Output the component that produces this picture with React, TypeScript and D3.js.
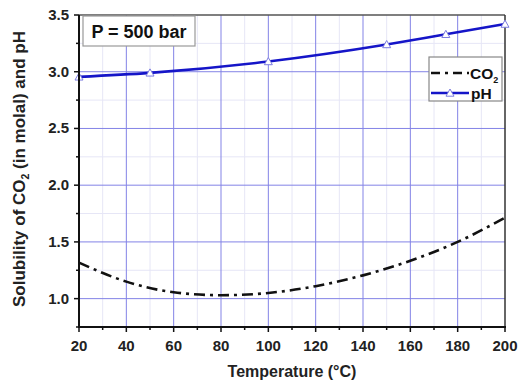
import React from "react";
import * as d3 from "d3";

const temps = [20, 40, 60, 80, 100, 120, 140, 160, 180, 200];
const co2Values = [1.317, 1.15, 1.056, 1.03, 1.05, 1.11, 1.205, 1.334, 1.5, 1.713];
const phTemps = [20, 50, 100, 150, 175, 200];
const phValues = [2.955, 2.99, 3.09, 3.24, 3.33, 3.42];
const xTicks = [20, 40, 60, 80, 100, 120, 140, 160, 180, 200];
const yTicks = [1.0, 1.5, 2.0, 2.5, 3.0, 3.5];
const annotation = "P = 500 bar";

const W = 518, H = 381;
const L = 79, R = 505, T = 15, B = 327;
const FONT = "'Liberation Sans', Arial, sans-serif";

export default function App() {
  const x = d3.scaleLinear().domain([20, 200]).range([L, R]);
  const y = d3.scaleLinear().domain([0.75, 3.5]).range([B, T]);
  const xMinor = d3.range(30, 200, 20);
  const yMinor = d3.range(0.75, 3.5, 0.5);

  const co2Line = d3
    .line<number>()
    .x((_, i) => x(temps[i]))
    .y((d) => y(d))
    .curve(d3.curveMonotoneX)(co2Values) as string;
  const phLine = d3
    .line<number>()
    .x((_, i) => x(phTemps[i]))
    .y((d) => y(d))
    .curve(d3.curveMonotoneX)(phValues) as string;

  const tri = (cx: number, cy: number, s = 4) =>
    `M${cx},${cy - s} L${cx + s},${cy + s * 0.8} L${cx - s},${cy + s * 0.8} Z`;

  const blue = "#1515c8";
  const gridMajor = "#8383e6";
  const gridMinor = "#e6e6f6";

  return (
    <svg width={W} height={H} style={{ position: "absolute", left: 0, top: 0 }} fontFamily={FONT}>
      <rect width={W} height={H} fill="#fff" />
      {/* minor grid */}
      {xMinor.map((v) => (
        <line key={"xm" + v} x1={x(v)} x2={x(v)} y1={T} y2={B} stroke={gridMinor} strokeWidth={1} />
      ))}
      {yMinor.map((v) => (
        <line key={"ym" + v} x1={L} x2={R} y1={y(v)} y2={y(v)} stroke={gridMinor} strokeWidth={1} />
      ))}
      {/* major grid */}
      {xTicks.slice(1, -1).map((v) => (
        <line key={"xg" + v} x1={x(v)} x2={x(v)} y1={T} y2={B} stroke={gridMajor} strokeWidth={1} />
      ))}
      {yTicks.slice(0, -1).map((v) => (
        <line key={"yg" + v} x1={L} x2={R} y1={y(v)} y2={y(v)} stroke={gridMajor} strokeWidth={1} />
      ))}
      {/* frame top & right */}
      <line x1={L} x2={R} y1={T} y2={T} stroke="#555" strokeWidth={1.5} />
      <line x1={R} x2={R} y1={T} y2={B} stroke="#333" strokeWidth={1.5} />

      {/* curves */}
      <path d={co2Line} fill="none" stroke="#111" strokeWidth={2.6} strokeDasharray="11,5,3,5" />
      <path d={phLine} fill="none" stroke={blue} strokeWidth={2.6} />
      {phTemps.map((t, i) => (
        <path key={"m" + t} d={tri(x(t), y(phValues[i]))} fill="#fff" stroke="#7d7de0" strokeWidth={1} />
      ))}

      {/* axes */}
      <line x1={L} x2={L} y1={T} y2={B + 1} stroke="#111" strokeWidth={2} />
      <line x1={L - 1} x2={R + 1} y1={B} y2={B} stroke="#111" strokeWidth={2} />
      {xTicks.map((v) => (
        <g key={"xt" + v}>
          <line x1={x(v)} x2={x(v)} y1={B} y2={B + 5} stroke="#111" strokeWidth={1.5} />
          <text x={x(v)} y={351} textAnchor="middle" fontSize={15} fontWeight="bold" fill="#222">
            {v}
          </text>
        </g>
      ))}
      {xMinor.map((v) => (
        <line key={"xmt" + v} x1={x(v)} x2={x(v)} y1={B} y2={B + 3} stroke="#111" strokeWidth={1.5} />
      ))}
      {yTicks.map((v) => (
        <g key={"yt" + v}>
          <line x1={L - 5} x2={L} y1={y(v)} y2={y(v)} stroke="#111" strokeWidth={1.5} />
          <text x={69} y={y(v) + 5} textAnchor="end" fontSize={15} fontWeight="bold" fill="#222">
            {v.toFixed(1)}
          </text>
        </g>
      ))}
      {yMinor.map((v) => (
        <line key={"ymt" + v} x1={L - 3} x2={L} y1={y(v)} y2={y(v)} stroke="#111" strokeWidth={1.5} />
      ))}

      {/* annotation */}
      <rect x={83} y={T + 1} width={112} height={30} fill="#fff" stroke="#999" strokeWidth={1.2} />
      <text x={139} y={38} textAnchor="middle" fontSize={18} fontWeight="bold" fill="#111">
        {annotation}
      </text>

      {/* legend */}
      <rect x={429} y={57} width={73} height={44} fill="#fff" stroke="#888" strokeWidth={1.2} />
      <line x1={431} x2={469} y1={73} y2={73} stroke="#111" strokeWidth={2.4} strokeDasharray="9,5,3,5" />
      <text x={470} y={79} fontSize={15.5} fontWeight="bold" fill="#111">
        CO<tspan fontSize={9} dy={4}>2</tspan>
      </text>
      <line x1={431} x2={469} y1={93} y2={93} stroke={blue} strokeWidth={2.4} />
      <path d={tri(450, 93)} fill="#fff" stroke="#7d7de0" strokeWidth={1} />
      <text x={471} y={98.5} fontSize={15.5} fontWeight="bold" fill="#111">
        pH
      </text>

      {/* axis titles */}
      <text x={292} y={377} textAnchor="middle" fontSize={16} fontWeight="bold" fill="#222">
        Temperature (°C)
      </text>
      <text
        transform={`translate(25,169) rotate(-90)`}
        textAnchor="middle"
        fontSize={17}
        fontWeight="bold"
        fill="#222"
      >
        Solubility of CO<tspan fontSize={10.5} dy={4}>2</tspan>
        <tspan dy={-4}> (in molal) and pH</tspan>
      </text>
    </svg>
  );
}
